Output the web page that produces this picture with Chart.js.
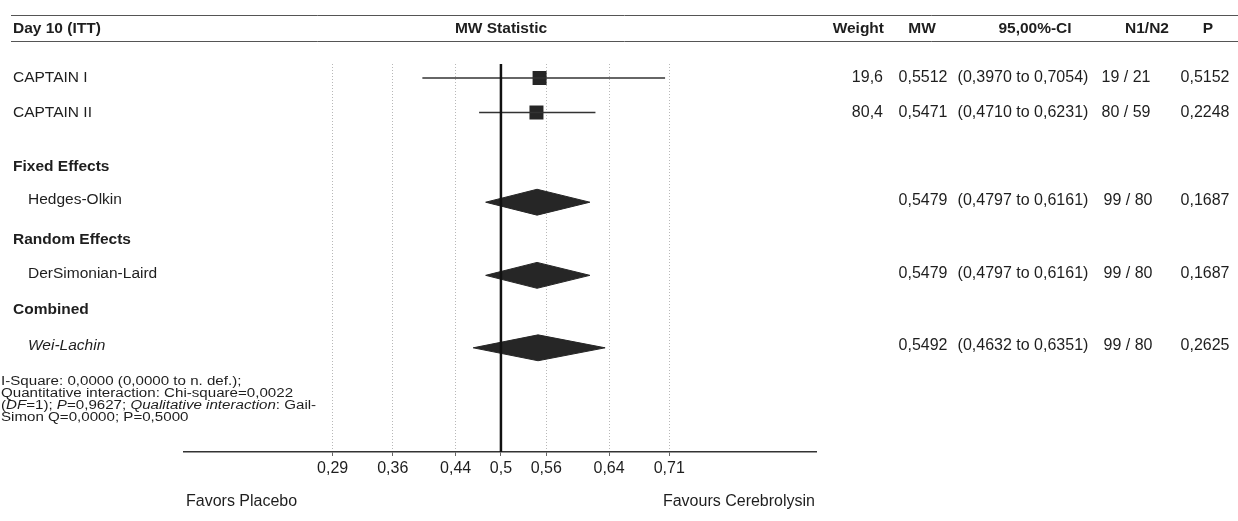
<!DOCTYPE html>
<html><head><meta charset="utf-8">
<script src="https://cdn.jsdelivr.net/npm/chart.js@4.4.1/dist/chart.umd.min.js"></script>
<style>html,body{margin:0;padding:0;background:#fff;}#wrap{width:1238px;height:521px;position:relative;}</style>
</head><body><div id="wrap"><canvas id="c" width="1238" height="521"></canvas></div>
<script>
// ---------- data ----------
const title = 'Day 10 (ITT)';
const axisTitle = 'MW Statistic';
const headers = ['Weight', 'MW', '95,00%-CI', 'N1/N2', 'P'];
const studies = ['CAPTAIN I', 'CAPTAIN II'];
const studyMW = [0.5512, 0.5471];
const studyLo = [0.3970, 0.4710];
const studyHi = [0.7054, 0.6231];
const studyWeight = ['19,6', '80,4'];
const studyN = ['19 / 21', '80 / 59'];
const studyP = ['0,5152', '0,2248'];
const groups = ['Fixed Effects', 'Random Effects', 'Combined'];
const pooled = ['Hedges-Olkin', 'DerSimonian-Laird', 'Wei-Lachin'];
const pooledMW = [0.5479, 0.5479, 0.5492];
const pooledLo = [0.4797, 0.4797, 0.4632];
const pooledHi = [0.6161, 0.6161, 0.6351];
const pooledN = ['99 / 80', '99 / 80', '99 / 80'];
const pooledP = ['0,1687', '0,1687', '0,2625'];
const tickValues = [0.29, 0.36, 0.44, 0.5, 0.56, 0.64, 0.71];
const tickLabels = ['0,29', '0,36', '0,44', '0,5', '0,56', '0,64', '0,71'];
const nullValue = 0.5;
const favourLeft = 'Favors Placebo';
const favourRight = 'Favours Cerebrolysin';
const footnote = [
  [['I-Square: 0,0000 (0,0000 to n. def.);', false]],
  [['Quantitative interaction: Chi-square=0,0022', false]],
  [['(', false], ['DF', true], ['=1); ', false], ['P', true], ['=0,9627; ', false], ['Qualitative interaction', true], [': Gail-', false]],
  [['Simon Q=0,0000; P=0,5000', false]]
];

// ---------- layout ----------
const FONT = '"Liberation Sans", Arial, Helvetica, sans-serif';
const studyRows = [0, 1];
const groupRows = [2.58, 4.7, 6.72];
const pooledRows = [3.6, 5.72, 7.82];
const Y_MIN = -0.406, Y_MAX = 10.84;
const X_MIN = -1.686, X_MAX = 1.676;
const DH = 0.375; // diamond half height (row units)

const logit = p => Math.log(p / (1 - p));
const fmt = v => v.toFixed(4).replace('.', ',');
const ciText = (lo, hi) => '(' + fmt(lo) + ' to ' + fmt(hi) + ')';

const INK = '#262626';
const datasets = [];
// line of no effect
datasets.push({data: [{x: logit(nullValue), y: Y_MIN}, {x: logit(nullValue), y: Y_MAX}],
  borderColor: '#111', borderWidth: 2.5, pointRadius: 0, fill: false});
// study CIs
studies.forEach((s, i) => {
  datasets.push({data: [{x: logit(studyLo[i]), y: studyRows[i]}, {x: logit(studyHi[i]), y: studyRows[i]}],
    borderColor: '#333', borderWidth: 1.4, pointRadius: 0, fill: false});
});
// study squares
datasets.push({data: studies.map((s, i) => ({x: logit(studyMW[i]), y: studyRows[i]})),
  showLine: false, pointStyle: 'rect', pointRadius: 9.9, pointBackgroundColor: INK,
  pointBorderColor: INK, pointBorderWidth: 0, fill: false});
// pooled diamonds: upper half + lower half filled to previous
pooled.forEach((p, i) => {
  const r = pooledRows[i];
  datasets.push({data: [{x: logit(pooledLo[i]), y: r}, {x: logit(pooledMW[i]), y: r - DH}, {x: logit(pooledHi[i]), y: r}],
    borderColor: INK, borderWidth: 1, pointRadius: 0, fill: false, tension: 0});
  datasets.push({data: [{x: logit(pooledLo[i]), y: r}, {x: logit(pooledMW[i]), y: r + DH}, {x: logit(pooledHi[i]), y: r}],
    borderColor: INK, borderWidth: 1, pointRadius: 0, fill: '-1', backgroundColor: INK, tension: 0});
});

function txt(ctx, s, x, y, font, align, color, sx) {
  sx = sx || 1;
  ctx.save();
  ctx.font = font;
  ctx.fillStyle = color || '#1e1e1e';
  ctx.textBaseline = 'middle';
  const w = ctx.measureText(s).width * sx;
  let x0 = x;
  if (align === 'right') x0 = x - w; else if (align === 'center') x0 = x - w / 2;
  ctx.translate(x0, y);
  ctx.scale(sx, 1);
  ctx.textAlign = 'left';
  ctx.fillText(s, 0, 0);
  ctx.restore();
  return w;
}

const textPlugin = {
  id: 'forestText',
  afterDraw(chart) {
    const ctx = chart.ctx;
    const ys = chart.scales.y;
    const reg = '15.5px ' + FONT, num = '16px ' + FONT, bold = 'bold 15.5px ' + FONT;
    // header rules
    ctx.save();
    ctx.strokeStyle = '#555'; ctx.lineWidth = 1;
    [15.5, 41.5].forEach(y => { ctx.beginPath(); ctx.moveTo(11, y); ctx.lineTo(1238, y); ctx.stroke(); });
    ctx.restore();
    // headers
    txt(ctx, title, 13, 29, bold, 'left');
    txt(ctx, axisTitle, 501, 29, bold, 'center');
    txt(ctx, headers[0], 884, 29, bold, 'right');
    txt(ctx, headers[1], 922, 29, bold, 'center');
    txt(ctx, headers[2], 1035, 29, bold, 'center');
    txt(ctx, headers[3], 1147, 29, bold, 'center');
    txt(ctx, headers[4], 1208, 29, bold, 'center');
    // studies
    studies.forEach((s, i) => {
      const y = ys.getPixelForValue(studyRows[i]);
      txt(ctx, s, 13, y, reg, 'left');
      txt(ctx, studyWeight[i], 883, y, num, 'right');
      txt(ctx, fmt(studyMW[i]), 923, y, num, 'center');
      txt(ctx, ciText(studyLo[i], studyHi[i]), 1023, y, num, 'center');
      txt(ctx, studyN[i], 1126, y, num, 'center');
      txt(ctx, studyP[i], 1205, y, num, 'center');
    });
    groups.forEach((g, i) => {
      txt(ctx, g, 13, ys.getPixelForValue(groupRows[i]), bold, 'left');
    });
    pooled.forEach((p, i) => {
      const y = ys.getPixelForValue(pooledRows[i]) - 2;
      txt(ctx, p, 28, y, (i === 2 ? 'italic ' : '') + reg, 'left');
      txt(ctx, fmt(pooledMW[i]), 923, y, num, 'center');
      txt(ctx, ciText(pooledLo[i], pooledHi[i]), 1023, y, num, 'center');
      txt(ctx, pooledN[i], 1128, y, num, 'center');
      txt(ctx, pooledP[i], 1205, y, num, 'center');
    });
    // footnote
    const SX = 1.26;
    footnote.forEach((line, li) => {
      let x = 1;
      const y = 382 + li * 12;
      line.forEach(([s, it]) => {
        x += txt(ctx, s, x, y, (it ? 'italic ' : '') + '12px ' + FONT, 'left', '#1e1e1e', SX);
      });
    });
    // favours
    txt(ctx, favourLeft, 186, 502, '16px ' + FONT, 'left');
    txt(ctx, favourRight, 815, 502, '16px ' + FONT, 'right');
  }
};

new Chart(document.getElementById('c'), {
  type: 'line',
  data: {datasets},
  options: {
    responsive: false, animation: false, devicePixelRatio: 1,
    layout: {padding: {left: 184, right: 422, top: 64, bottom: 39}},
    plugins: {legend: {display: false}, tooltip: {enabled: false}},
    elements: {line: {tension: 0}},
    scales: {
      x: {
        type: 'linear', min: X_MIN, max: X_MAX,
        afterBuildTicks: s => { s.ticks = tickValues.map(v => ({value: logit(v)})); },
        afterFit: s => { s.height = 30; },
        grid: {
          color: c => (c.tick && Math.abs(c.tick.value - logit(nullValue)) < 1e-9) ? 'rgba(0,0,0,0)' : '#b8b8b8',
          lineWidth: 1, drawTicks: true, tickLength: 4, tickColor: '#666', tickWidth: 1
        },
        border: {display: true, color: '#333', width: 1.5, dash: [1, 2]},
        ticks: {callback: (v, i) => tickLabels[i], font: {family: FONT, size: 16}, color: '#1e1e1e',
          padding: 3, maxRotation: 0, autoSkip: false}
      },
      y: {type: 'linear', min: Y_MIN, max: Y_MAX, reverse: true, display: false}
    }
  },
  plugins: [textPlugin]
});
</script></body></html>
